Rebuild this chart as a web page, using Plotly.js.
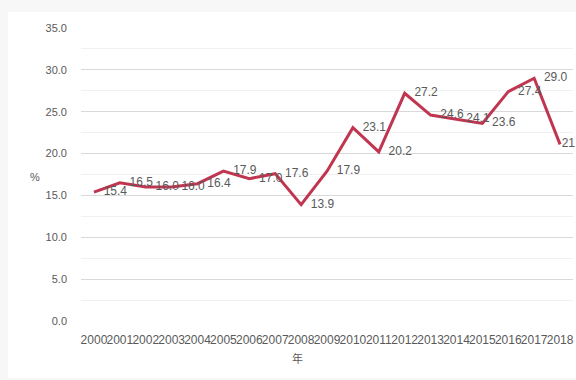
<!DOCTYPE html>
<html>
<head>
<meta charset="utf-8">
<script src="https://cdn.plot.ly/plotly-3.0.1.min.js"></script>
<style>
  html, body { margin: 0; padding: 0; background: #f7f7f7; width: 576px; height: 380px; overflow: hidden; }
  #chart { position: absolute; left: 8px; top: 12px; width: 568px; height: 366px; background: #fff; }
</style>
</head>
<body>
<div id="chart"></div>
<script>
// Annual share (%), 2000–2018
const years = ['2000','2001','2002','2003','2004','2005','2006','2007','2008','2009',
               '2010','2011','2012','2013','2014','2015','2016','2017','2018'];
const shares = [15.4, 16.5, 16.0, 16.0, 16.4, 17.9, 17.0, 17.6, 13.9, 17.9,
                23.1, 20.2, 27.2, 24.6, 24.1, 23.6, 27.4, 29.0, 21.1];
const yTicks = [0, 5, 10, 15, 20, 25, 30, 35];

const font = '"Liberation Sans", Arial, sans-serif';

// invisible markers only push the value labels away from the points;
// the last label sits closer to its point, right at the edge
const labelGap = years.map((_, i) => (i === years.length - 1 ? 1 : 14));

const trace = {
  x: years,
  y: shares,
  type: 'scatter',
  mode: 'lines+markers+text',
  line: { color: '#c0354f', width: 3 },
  marker: { size: labelGap, color: 'rgba(0,0,0,0)', opacity: 0,
            line: { width: 0, color: 'rgba(0,0,0,0)' } },
  text: shares.map(v => v.toFixed(1)),
  textposition: 'middle right',
  textfont: { family: font, size: 12, color: '#595959' },
  cliponaxis: false,
  hoverinfo: 'skip'
};

const layout = {
  width: 568,
  height: 366,
  margin: { l: 73, r: 3, t: 16, b: 57 },
  paper_bgcolor: '#ffffff',
  plot_bgcolor: '#ffffff',
  showlegend: false,
  font: { family: font, size: 11, color: '#595959' },
  xaxis: {
    type: 'category',
    range: [-0.5, 18.5],
    tickangle: 0,
    showgrid: false,
    zeroline: false,
    showline: false,
    ticks: '',
    ticklabelstandoff: 10,
    tickfont: { family: font, size: 12, color: '#595959' },
    automargin: false
  },
  yaxis: {
    range: [0, 35],
    tickvals: yTicks,
    ticktext: yTicks.map(v => v.toFixed(1)),
    showgrid: true,
    gridcolor: '#d9d9d9',
    gridwidth: 1,
    zeroline: false,
    showline: false,
    ticks: '',
    ticklabelstandoff: 13,
    tickfont: { family: font, size: 11, color: '#595959' },
    minor: { dtick: 2.5, showgrid: true, gridcolor: '#f1f1f1', gridwidth: 1 },
    automargin: false
  },
  annotations: [
    { text: '%', xref: 'paper', yref: 'paper', x: -0.0935, y: 0.491,
      xanchor: 'center', yanchor: 'middle',
      showarrow: false, font: { family: font, size: 11, color: '#595959' } },
    { text: '年', xref: 'paper', yref: 'paper', x: 0.441, y: -0.126,
      xanchor: 'center', yanchor: 'middle',
      showarrow: false, font: { family: '"Noto Sans CJK SC", sans-serif', size: 11, color: '#595959' } }
  ]
};

Plotly.newPlot('chart', [trace], layout, { staticPlot: true, displayModeBar: false });
</script>
</body>
</html>
